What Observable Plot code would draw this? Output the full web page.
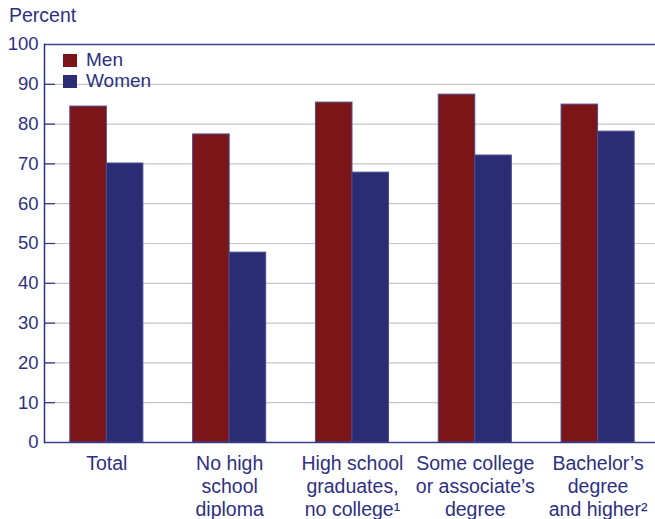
<!DOCTYPE html>
<html>
<head>
<meta charset="utf-8">
<script src="https://cdn.jsdelivr.net/npm/d3@7"></script>
<script src="https://cdn.jsdelivr.net/npm/@observablehq/plot@0.6"></script>
<style>
  body { margin: 0; background: #fff; }
  #wrap { position: relative; width: 655px; height: 519px; font-family: "Liberation Sans", Arial, sans-serif; color: #2e3081; }
  #ylabel { position: absolute; left: 9px; top: 3px; font-size: 19.5px; line-height: 24px; }
  .leg { position: absolute; left: 63px; font-size: 19px; line-height: 20px; display: flex; align-items: center; }
  .sw { width: 14px; height: 13px; margin-right: 9px; }
</style>
</head>
<body>
<div id="wrap">
  <div id="chart"></div>
  <div id="ylabel">Percent</div>
  <div id="legend"></div>
</div>
<script>
const categories = ["Total", "No high school diploma", "High school graduates, no college", "Some college or associate’s degree", "Bachelor’s degree and higher"];
const tickLabels = ["Total", "No high\nschool\ndiploma", "High school\ngraduates,\nno college¹", "Some college\nor associate’s\ndegree", "Bachelor’s\ndegree\nand higher²"];
const series = ["Men", "Women"];
const men = [84.4, 77.4, 85.4, 87.4, 84.9];
const women = [70.1, 47.7, 67.8, 72.1, 78.1];
const colors = ["#7c1518", "#2b2d74"];
const yTicks = [0, 10, 20, 30, 40, 50, 60, 70, 80, 90, 100];

const W = 655, H = 519;
const mL = 44, mR = 0, mT = 44, mB = 77;
const xBand = {domain: categories, paddingInner: 0.405, paddingOuter: 0.19, align: 0.553, round: false};
const bw = Plot.scale({x: {type: "band", range: [mL, W - mR], ...xBand}}).bandwidth;

const rows = [];
categories.forEach((c, i) => {
  rows.push({cat: c, sex: "Men", value: men[i]});
  rows.push({cat: c, sex: "Women", value: women[i]});
});
const navy = "#2e3081";

const chart = Plot.plot({
  width: W, height: H,
  marginLeft: mL, marginRight: mR, marginTop: mT, marginBottom: mB,
  style: {fontFamily: "'Liberation Sans', Arial, sans-serif", fontSize: "19px", color: navy, background: "white"},
  x: {...xBand, axis: null, label: null},
  y: {domain: [0, 100], axis: null, label: null},
  color: {domain: series, range: colors},
  marks: [
    Plot.gridY(yTicks, {stroke: "#c6c6c6", strokeOpacity: 1, strokeWidth: 1.2}),
    Plot.barY(rows.filter(d => d.sex === "Men"), {x: "cat", y: "value", fill: "sex", insetRight: bw / 2, stroke: "#4a4c92", strokeWidth: 1}),
    Plot.barY(rows.filter(d => d.sex === "Women"), {x: "cat", y: "value", fill: "sex", insetLeft: bw / 2, stroke: "#4a4c92", strokeWidth: 1}),
    Plot.axisY(yTicks, {tickSize: 0, tickPadding: 6, fill: navy, fontSize: 18.5, label: null}),
    Plot.tickY(yTicks.filter(d => d > 0 && d < 100), {y: d => d, stroke: navy, strokeWidth: 1.2, insetRight: W - mL - mR - 11}),
    Plot.ruleY([0, 100], {stroke: navy, strokeWidth: 1.5, strokeOpacity: 0.9}),
    Plot.frame({anchor: "left", stroke: navy, strokeWidth: 1.5}),
    Plot.axisX({tickSize: 0, tickPadding: 11, lineHeight: 1.18, fontSize: 19.5, fill: navy, label: null, tickFormat: d => tickLabels[categories.indexOf(d)]})
  ]
});
document.getElementById("chart").appendChild(chart);

const leg = document.getElementById("legend");
series.forEach((s, i) => {
  const el = document.createElement("div");
  el.className = "leg";
  el.style.top = (50 + i * 21) + "px";
  el.innerHTML = `<span class="sw" style="background:${colors[i]}"></span><span>${s}</span>`;
  leg.appendChild(el);
});
</script>
</body>
</html>
